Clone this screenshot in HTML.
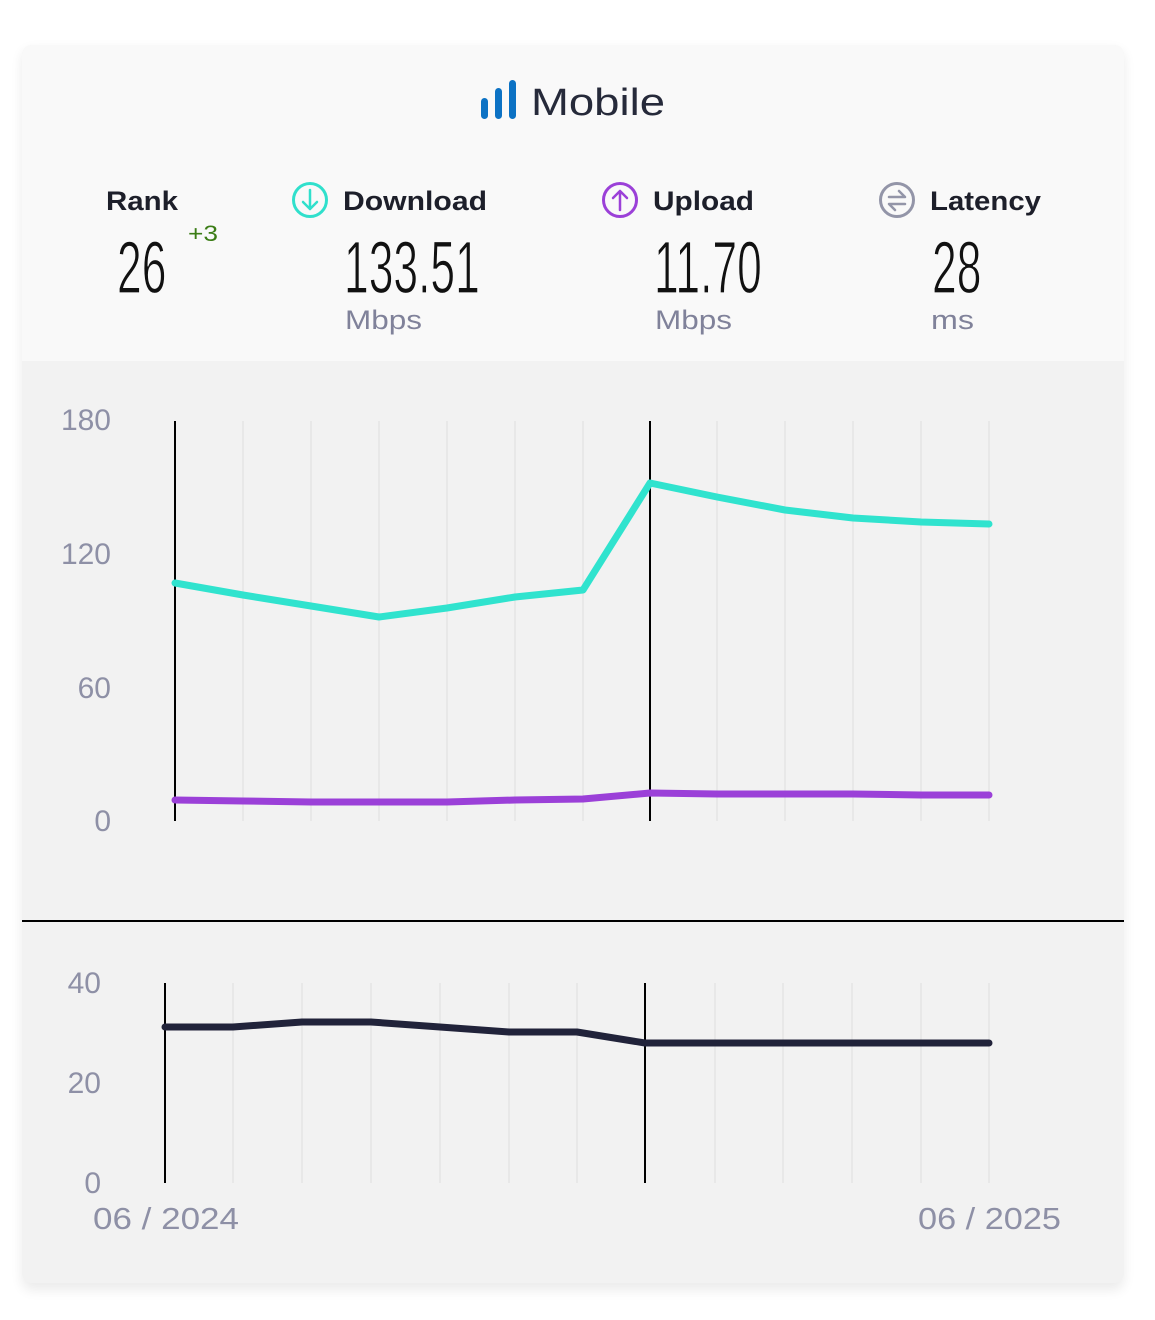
<!DOCTYPE html>
<html><head><meta charset="utf-8"><style>
html,body{margin:0;padding:0;background:#fff;}
svg{display:block;}
</style></head><body>
<svg width="1155" height="1320" viewBox="0 0 1155 1320" xmlns="http://www.w3.org/2000/svg" font-family="Liberation Sans, sans-serif">
<defs>
<filter id="sh" x="-5%" y="-5%" width="110%" height="110%"><feGaussianBlur stdDeviation="6"/></filter>
</defs>
<rect x="0" y="0" width="1155" height="1320" fill="#fff"/>
<rect x="22" y="50" width="1102" height="1240" rx="10" fill="#000" opacity="0.08" filter="url(#sh)"/>
<rect x="22" y="45" width="1102" height="1238" rx="10" fill="#f2f2f2"/>
<path d="M22 361 V55 a10 10 0 0 1 10 -10 H1114 a10 10 0 0 1 10 10 V361 Z" fill="#f9f9f9"/>
<!-- title -->
<g fill="#0c72c4">
<rect x="481" y="98" width="7" height="21" rx="3.5"/>
<rect x="495" y="88" width="7" height="31" rx="3.5"/>
<rect x="509" y="80" width="7" height="39" rx="3.5"/>
</g>
<text x="531" y="115" font-size="38" fill="#262a3a" textLength="134" lengthAdjust="spacingAndGlyphs">Mobile</text>
<!-- stats -->
<text x="106" y="210" font-size="27" font-weight="bold" fill="#1d1f2a" textLength="72" lengthAdjust="spacingAndGlyphs">Rank</text>
<text x="188" y="241" font-size="22" fill="#3b7d16" textLength="30" lengthAdjust="spacingAndGlyphs">+3</text>
<circle cx="310" cy="200" r="16.5" fill="none" stroke="#30e0cc" stroke-width="3"/>
<path d="M310 190 V209 M303 202 L310 209 L317 202" fill="none" stroke="#30e0cc" stroke-width="2.5" stroke-linecap="round" stroke-linejoin="round"/>
<text x="343" y="210" font-size="27" font-weight="bold" fill="#1d1f2a" textLength="144" lengthAdjust="spacingAndGlyphs">Download</text>
<circle cx="620" cy="200" r="16.5" fill="none" stroke="#9b40d8" stroke-width="3"/>
<path d="M620 210 V191 M613 198 L620 191 L627 198" fill="none" stroke="#9b40d8" stroke-width="2.5" stroke-linecap="round" stroke-linejoin="round"/>
<text x="653" y="210" font-size="27" font-weight="bold" fill="#1d1f2a" textLength="101" lengthAdjust="spacingAndGlyphs">Upload</text>
<circle cx="897" cy="200" r="16.5" fill="none" stroke="#9395a8" stroke-width="3"/>
<path d="M889 197 H905 L899 191 M905 204 H889 L895 210" fill="none" stroke="#9395a8" stroke-width="2.5" stroke-linecap="round" stroke-linejoin="round"/>
<text x="930" y="210" font-size="27" font-weight="bold" fill="#1d1f2a" textLength="111" lengthAdjust="spacingAndGlyphs">Latency</text>
<g font-size="74" fill="#111" stroke="#f9f9f9" stroke-width="1.2">
<text transform="translate(117,293) scale(0.6,1)">26</text>
<text transform="translate(344,293) scale(0.6,1)">133.51</text>
<text transform="translate(654,293) scale(0.6,1)">11.70</text>
<text transform="translate(932,293) scale(0.6,1)">28</text>
</g>
<g font-size="27" fill="#80829a">
<text x="345" y="329" textLength="77" lengthAdjust="spacingAndGlyphs">Mbps</text>
<text x="655" y="329" textLength="77" lengthAdjust="spacingAndGlyphs">Mbps</text>
<text x="931" y="329" textLength="43" lengthAdjust="spacingAndGlyphs">ms</text>
</g>
<!-- top chart -->
<g stroke="#e4e4e4" stroke-width="1.5">
<line x1="243" y1="421" x2="243" y2="821"/><line x1="311" y1="421" x2="311" y2="821"/><line x1="379" y1="421" x2="379" y2="821"/><line x1="447" y1="421" x2="447" y2="821"/><line x1="515" y1="421" x2="515" y2="821"/><line x1="583" y1="421" x2="583" y2="821"/><line x1="717" y1="421" x2="717" y2="821"/><line x1="785" y1="421" x2="785" y2="821"/><line x1="853" y1="421" x2="853" y2="821"/><line x1="921" y1="421" x2="921" y2="821"/><line x1="989" y1="421" x2="989" y2="821"/>
</g>
<line x1="175" y1="421" x2="175" y2="821" stroke="#000" stroke-width="2"/>
<line x1="650" y1="421" x2="650" y2="821" stroke="#000" stroke-width="2"/>
<g font-size="30" fill="#8e90a6" text-anchor="end">
<text x="111" y="430">180</text><text x="111" y="564">120</text><text x="111" y="698">60</text><text x="111" y="831">0</text>
</g>
<polyline points="175,583 243,595 311,606 379,617 447,608 515,597 583,590 650,483 717,497 785,510 853,518 921,522 989,524" fill="none" stroke="#30e3ce" stroke-width="7" stroke-linejoin="round" stroke-linecap="round"/>
<polyline points="175,800 243,801 311,802 379,802 447,802 515,800 583,799 650,793 717,794 785,794 853,794 921,795 989,795" fill="none" stroke="#9b40d8" stroke-width="7" stroke-linejoin="round" stroke-linecap="round"/>
<line x1="22" y1="921" x2="1124" y2="921" stroke="#000" stroke-width="2"/>
<!-- bottom chart -->
<g stroke="#e4e4e4" stroke-width="1.5">
<line x1="233" y1="983" x2="233" y2="1183"/><line x1="302" y1="983" x2="302" y2="1183"/><line x1="371" y1="983" x2="371" y2="1183"/><line x1="440" y1="983" x2="440" y2="1183"/><line x1="509" y1="983" x2="509" y2="1183"/><line x1="577" y1="983" x2="577" y2="1183"/><line x1="715" y1="983" x2="715" y2="1183"/><line x1="783" y1="983" x2="783" y2="1183"/><line x1="852" y1="983" x2="852" y2="1183"/><line x1="921" y1="983" x2="921" y2="1183"/><line x1="989" y1="983" x2="989" y2="1183"/>
</g>
<line x1="165" y1="983" x2="165" y2="1183" stroke="#000" stroke-width="2"/>
<line x1="645" y1="983" x2="645" y2="1183" stroke="#000" stroke-width="2"/>
<g font-size="30" fill="#8e90a6" text-anchor="end">
<text x="101" y="993">40</text><text x="101" y="1093">20</text><text x="101" y="1193">0</text>
</g>
<polyline points="165,1027 233,1027 302,1022 371,1022 440,1027 509,1032 577,1032 645,1043 715,1043 783,1043 852,1043 921,1043 989,1043" fill="none" stroke="#21233a" stroke-width="7" stroke-linejoin="round" stroke-linecap="round"/>
<g font-size="31" fill="#8e90a6">
<text x="93" y="1229" textLength="146" lengthAdjust="spacingAndGlyphs">06 / 2024</text>
<text x="918" y="1229" textLength="143" lengthAdjust="spacingAndGlyphs">06 / 2025</text>
</g>
</svg>
</body></html>
